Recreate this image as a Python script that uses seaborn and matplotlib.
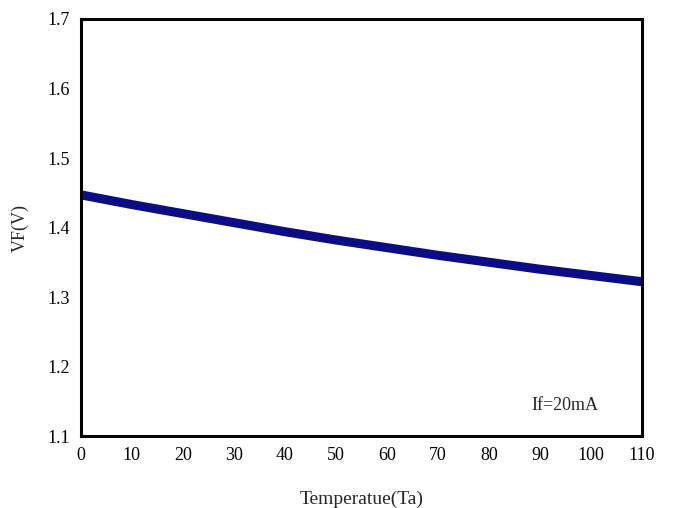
import matplotlib
matplotlib.use("Agg")
import matplotlib.pyplot as plt
import seaborn as sns
import pandas as pd

temperature = [0, 10, 20, 30, 40, 50, 60, 70, 80, 90, 100, 110]
vf = [1.447, 1.433, 1.420, 1.407, 1.394, 1.382, 1.371, 1.360, 1.350, 1.340, 1.331, 1.322]
x_ticks = [0, 10, 20, 30, 40, 50, 60, 70, 80, 90, 100, 110]
y_ticks = [1.1, 1.2, 1.3, 1.4, 1.5, 1.6, 1.7]

sns.set_style("white")
plt.rcParams['font.family'] = ['Liberation Serif', 'DejaVu Serif']

df = pd.DataFrame({"T": temperature, "VF": vf})

fig = plt.figure(figsize=(6.74, 5.08), dpi=100)
ax = fig.add_axes([0.120, 0.1417, 0.8325, 0.8209])
sns.lineplot(data=df, x="T", y="VF", ax=ax, color="#0c0c84", linewidth=6.5, solid_capstyle="butt")

ax.set_xlim(0, 110)
ax.set_ylim(1.1, 1.7)
ax.set_xticks(x_ticks)
ax.set_yticks(y_ticks)
ax.set_xticklabels([str(t) for t in x_ticks])
ax.set_yticklabels([f"{t:.1f}" for t in y_ticks])
ax.tick_params(direction="in", length=4, width=1.2, labelsize=13, pad=8, colors="black")
for s in ax.spines.values():
    s.set_linewidth(2.2)
    s.set_color("black")

ax.set_xlabel("Temperatue(Ta)", fontsize=14, labelpad=19)
ax.set_ylabel("VF(V)", fontsize=13, labelpad=13)
ax.text(0.863, 0.074, "If=20mA", transform=ax.transAxes, fontsize=13, ha="center", va="center")

fig.savefig("out.png", dpi=100)
